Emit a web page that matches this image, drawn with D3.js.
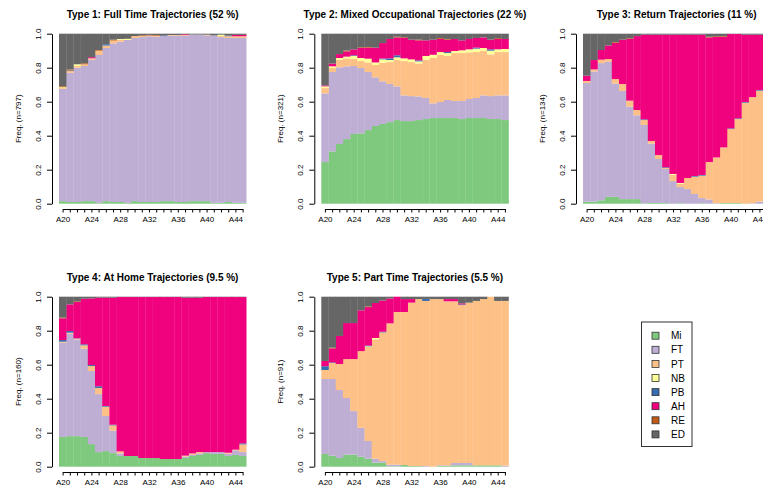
<!DOCTYPE html>
<html><head>
<meta charset="utf-8">
<title>State distribution plots by type</title>
<script src="https://d3js.org/d3.v7.min.js"></script>
<style>
  body { margin: 0; background: #ffffff; }
  svg text { font-family: "Liberation Sans", Arial, Helvetica, sans-serif; fill: #000; }
  .title { font-size: 10px; font-weight: bold; }
  .tick text { font-size: 8px; }
  .ylab { font-size: 8px; }
  .legend text { font-size: 10px; }
</style>
</head>
<body>
<svg id="chart" width="763" height="489"></svg>
<script>
const states = ["Mi", "FT", "PT", "NB", "PB", "AH", "RE", "ED"];
const stateColors = ["#7FC97F", "#BEAED4", "#FDC086", "#FFFF99", "#386CB0", "#F0027F", "#BF5B17", "#666666"];
const ages = ["A20","A21","A22","A23","A24","A25","A26","A27","A28","A29","A30","A31","A32",
              "A33","A34","A35","A36","A37","A38","A39","A40","A41","A42","A43","A44","A45"];
const shownAges = ["A20","A24","A28","A32","A36","A40","A44"];
const yTicks = [0, 0.2, 0.4, 0.6, 0.8, 1.0];

const titles = [
  "Type 1: Full Time Trajectories (52 %)",
  "Type 2: Mixed Occupational Trajectories (22 %)",
  "Type 3: Return Trajectories (11 %)",
  "Type 4: At Home Trajectories (9.5 %)",
  "Type 5: Part Time Trajectories (5.5 %)"
];
const yLabels = ["Freq. (n=797)", "Freq. (n=321)", "Freq. (n=134)", "Freq. (n=160)", "Freq. (n=91)"];

// state frequencies per age, one object per type
const type1 = {
  Mi: [0.015,0.01,0.01,0.015,0.015,0.005,0.015,0.01,0.01,0.005,0.015,0.01,0.01,0.01,0.015,0.015,0.01,0.01,0.015,0.015,0.015,0.005,0.005,0.01,0.005,0.005],
  FT: [0.66,0.76,0.79,0.795,0.832,0.87,0.901,0.933,0.943,0.958,0.96,0.97,0.975,0.973,0.971,0.973,0.978,0.978,0.98,0.98,0.975,0.985,0.975,0.965,0.97,0.97],
  PT: [0.005,0.01,0.01,0.01,0.008,0.025,0.014,0.017,0.012,0,0.011,0.006,0.004,0.005,0,0.004,0.004,0.004,0,0,0.004,0,0.006,0.01,0.01,0.01],
  NB: [0.005,0,0.01,0,0,0,0,0,0.004,0.007,0,0,0,0,0,0,0,0,0,0,0,0,0.008,0,0,0],
  PB: [0,0.004,0,0,0,0,0.008,0,0,0,0,0,0,0,0.004,0,0,0,0,0,0,0,0,0.004,0,0],
  AH: [0,0,0,0,0.007,0,0,0,0,0,0,0,0,0,0,0,0,0.005,0,0,0,0,0,0,0.008,0.008],
  RE: [0.006,0.006,0,0.006,0,0.004,0,0.005,0,0,0,0.004,0.004,0.004,0,0,0,0,0,0,0,0,0,0,0,0],
  ED: [0.309,0.21,0.18,0.174,0.138,0.096,0.062,0.035,0.031,0.03,0.014,0.01,0.007,0.008,0.01,0.008,0.008,0.003,0.005,0.005,0.006,0.01,0.006,0.011,0.007,0.007]
};
const type2 = {
  Mi: [0.245,0.308,0.351,0.38,0.41,0.414,0.433,0.457,0.469,0.48,0.492,0.486,0.486,0.492,0.498,0.504,0.504,0.504,0.504,0.498,0.504,0.504,0.504,0.498,0.498,0.492],
  FT: [0.404,0.467,0.451,0.428,0.40,0.384,0.342,0.286,0.251,0.224,0.198,0.151,0.147,0.139,0.124,0.086,0.094,0.106,0.10,0.106,0.112,0.118,0.133,0.135,0.139,0.145],
  PT: [0.031,0.023,0.045,0.047,0.041,0.041,0.056,0.073,0.109,0.129,0.155,0.202,0.20,0.194,0.225,0.267,0.277,0.259,0.282,0.282,0.274,0.27,0.261,0.245,0.255,0.255],
  NB: [0.01,0.01,0.01,0.01,0.018,0.018,0.022,0.015,0.02,0.012,0.016,0.016,0.016,0.012,0.022,0.019,0.017,0.017,0.012,0.016,0.018,0.02,0.018,0.022,0.016,0.018],
  PB: [0,0,0,0,0.004,0,0,0,0.005,0.01,0.012,0,0,0.006,0,0,0,0.006,0,0,0,0.006,0,0.008,0,0],
  AH: [0.006,0.016,0.023,0.031,0.035,0.059,0.065,0.087,0.091,0.114,0.105,0.12,0.116,0.118,0.092,0.089,0.077,0.073,0.071,0.059,0.061,0.057,0.062,0.057,0.061,0.059],
  RE: [0,0,0,0.005,0,0.004,0.004,0,0,0,0.004,0.004,0,0.004,0,0,0.005,0.004,0,0,0,0,0,0,0.005,0],
  ED: [0.304,0.176,0.12,0.099,0.092,0.08,0.078,0.082,0.055,0.031,0.018,0.021,0.035,0.035,0.039,0.035,0.026,0.031,0.031,0.039,0.031,0.025,0.022,0.035,0.026,0.031]
};
const type3 = {
  Mi: [0.012,0.012,0.02,0.04,0.04,0.027,0.027,0.027,0.003,0.004,0.004,0.004,0,0.003,0,0,0.003,0,0,0.004,0.004,0.004,0,0,0,0],
  FT: [0.698,0.766,0.807,0.795,0.666,0.636,0.544,0.493,0.46,0.349,0.259,0.20,0.133,0.095,0.086,0.057,0.03,0.025,0.003,0,0,0,0,0.003,0.012,0.012],
  PT: [0.012,0.012,0.02,0.016,0.027,0.041,0.035,0.031,0.029,0.016,0.023,0.006,0.038,0.02,0.065,0.102,0.132,0.22,0.269,0.327,0.435,0.494,0.594,0.624,0.653,0.653],
  NB: [0,0,0,0,0,0,0,0,0,0,0,0,0.004,0.004,0,0,0,0,0,0,0,0,0,0,0,0],
  PB: [0,0,0,0,0,0,0,0,0.004,0,0,0.004,0,0,0,0.004,0.004,0,0,0,0.004,0.004,0.004,0,0.004,0.004],
  AH: [0.031,0.055,0.057,0.08,0.214,0.261,0.363,0.435,0.498,0.625,0.708,0.78,0.819,0.872,0.843,0.831,0.825,0.733,0.709,0.651,0.555,0.496,0.396,0.367,0.325,0.325],
  RE: [0,0,0,0,0.004,0,0.004,0,0,0,0,0,0,0,0,0,0,0.004,0.004,0.004,0,0,0,0,0,0],
  ED: [0.247,0.155,0.096,0.069,0.049,0.035,0.027,0.014,0.006,0.006,0.006,0.006,0.006,0.006,0.006,0.006,0.006,0.018,0.018,0.018,0.006,0.006,0.006,0.006,0.006,0.006]
};
const type4 = {
  Mi: [0.175,0.18,0.18,0.175,0.133,0.086,0.092,0.08,0.063,0.063,0.063,0.051,0.051,0.051,0.045,0.045,0.045,0.051,0.063,0.069,0.08,0.075,0.075,0.063,0.069,0.063],
  FT: [0.554,0.602,0.569,0.519,0.43,0.341,0.206,0.132,0.015,0,0,0,0,0,0,0,0,0.008,0.006,0.009,0.006,0.011,0.011,0.013,0.027,0.023],
  PT: [0.006,0.006,0.004,0.02,0.029,0.036,0.055,0.031,0.012,0,0,0,0,0,0,0,0,0.006,0.009,0.008,0,0,0,0.006,0.004,0.045],
  NB: [0,0,0,0,0,0,0,0,0,0,0,0,0,0,0,0,0,0,0,0,0,0,0,0,0,0],
  PB: [0.01,0.01,0.002,0.006,0.006,0.01,0.004,0.004,0,0,0,0,0,0,0,0,0,0,0,0,0,0,0,0,0,0.006],
  AH: [0.128,0.157,0.214,0.268,0.392,0.521,0.637,0.747,0.908,0.935,0.935,0.947,0.947,0.947,0.953,0.953,0.953,0.929,0.916,0.908,0.912,0.912,0.912,0.916,0.898,0.861],
  RE: [0.004,0,0.004,0,0,0,0,0,0,0,0,0,0,0,0,0,0,0,0,0,0,0,0,0,0,0],
  ED: [0.123,0.045,0.027,0.012,0.01,0.006,0.006,0.006,0.002,0.002,0.002,0.002,0.002,0.002,0.002,0.002,0.002,0.006,0.006,0.006,0.002,0.002,0.002,0.002,0.002,0.002]
};
const type5 = {
  Mi: [0.075,0.065,0.051,0.071,0.071,0.059,0.047,0.024,0.024,0.003,0.003,0.01,0.004,0.004,0,0,0.004,0.004,0.008,0.008,0.008,0.008,0.008,0.008,0.008,0],
  FT: [0.441,0.451,0.40,0.333,0.256,0.17,0.104,0.023,0.009,0.009,0.009,0,0,0,0.004,0,0.004,0.004,0.014,0.014,0.014,0,0,0,0,0.006],
  PT: [0.053,0.094,0.153,0.229,0.306,0.451,0.553,0.702,0.757,0.831,0.898,0.90,0.961,0.982,0.971,0.986,0.978,0.965,0.951,0.929,0.943,0.967,0.978,0.992,0.967,0.969],
  NB: [0,0,0,0,0,0,0.004,0.008,0,0,0,0,0,0,0,0,0,0,0,0,0,0,0,0,0,0],
  PB: [0.022,0.004,0,0,0,0,0.004,0,0.004,0,0,0,0,0,0.012,0,0,0,0,0.004,0,0,0,0,0,0],
  AH: [0.031,0.082,0.165,0.212,0.212,0.24,0.227,0.206,0.184,0.147,0.09,0.076,0.021,0,0,0,0,0.013,0.013,0.006,0,0,0,0,0,0],
  RE: [0,0.004,0,0,0,0,0.004,0,0,0,0,0,0,0,0,0,0,0,0,0,0,0,0,0,0,0],
  ED: [0.378,0.30,0.231,0.155,0.155,0.08,0.057,0.037,0.022,0.01,0,0.014,0.014,0.014,0.013,0.014,0.014,0.014,0.014,0.039,0.035,0.025,0.014,0,0.025,0.025]
};

const types = [type1, type2, type3, type4, type5];
const origins = [[59, 33.7], [321.3, 33.7], [583, 33.7], [59, 296.7], [321.3, 296.7]];
const plotW = 187.2, plotH = 170;

const svg = d3.select("#chart");
const color = d3.scaleOrdinal().domain(states).range(stateColors);

types.forEach((t, k) => {
  const [x0, y0] = origins[k];
  const rows = ages.map((a, i) => {
    const r = { age: a };
    states.forEach(s => r[s] = t[s][i]);
    return r;
  });
  const series = d3.stack().keys(states)(rows);

  const x = d3.scaleBand().domain(ages).range([x0, x0 + plotW]).padding(0);
  const xTick = d3.scalePoint().domain(ages).range([x0 + x.bandwidth() / 2, x0 + plotW - x.bandwidth() / 2]);
  const y = d3.scaleLinear().domain([0, 1]).range([y0 + plotH, y0]).clamp(true);

  const g = svg.append("g");
  g.selectAll("g.layer").data(series)
    .join("g")
    .attr("class", "layer")
    .attr("fill", d => color(d.key))
    .selectAll("rect").data(d => d)
    .join("rect")
    .attr("x", d => x(d.data.age))
    .attr("width", x.bandwidth() + 0.3)
    .attr("y", d => y(d[1]))
    .attr("height", d => Math.max(0, y(d[0]) - y(d[1])));

  // y axis
  const yAxis = g.append("g")
    .attr("transform", `translate(${x0 - 7},0)`)
    .call(d3.axisLeft(y).tickValues(yTicks).tickFormat(d3.format(".1f")).tickSize(5).tickSizeOuter(0));
  yAxis.selectAll(".tick text")
    .attr("transform", "rotate(-90)")
    .attr("text-anchor", "middle")
    .attr("x", 0)
    .attr("y", -11.5)
    .attr("dy", 0);

  // x axis
  g.append("g")
    .attr("transform", `translate(0,${y0 + 175.3})`)
    .call(d3.axisBottom(xTick).tickSize(3.5).tickSizeOuter(0)
      .tickFormat(d => shownAges.includes(d) ? d : ""))
    .selectAll(".tick text").attr("y", 7.5);

  svg.selectAll(".domain, .tick line").attr("stroke", "#000");

  g.append("text")
    .attr("class", "title")
    .attr("text-anchor", "middle")
    .attr("x", x0 + plotW / 2)
    .attr("y", y0 - 15.5)
    .text(titles[k]);

  g.append("text")
    .attr("class", "ylab")
    .attr("text-anchor", "middle")
    .attr("transform", `translate(${x0 - 38},${y0 + plotH / 2}) rotate(-90)`)
    .text(yLabels[k]);
});

// legend
const legend = svg.append("g").attr("class", "legend");
legend.append("rect")
  .attr("x", 641.5).attr("y", 322).attr("width", 50.5).attr("height", 124.5)
  .attr("fill", "none").attr("stroke", "#333").attr("stroke-width", 1);
const items = legend.selectAll("g.item").data(states)
  .join("g")
  .attr("class", "item")
  .attr("transform", (d, i) => `translate(0,${335.7 + i * 14.1})`);
items.append("rect")
  .attr("x", 652).attr("y", -3.5).attr("width", 7).attr("height", 7)
  .attr("fill", d => color(d)).attr("stroke", "#333").attr("stroke-width", 0.8);
items.append("text")
  .attr("x", 671).attr("y", 3.6)
  .text(d => d);
</script>
</body>
</html>
